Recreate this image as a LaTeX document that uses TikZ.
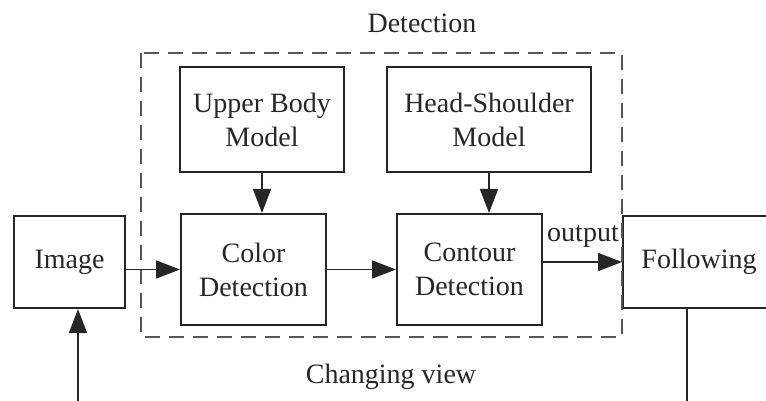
\documentclass[tikz,border=0pt]{standalone}
\usepackage{fontspec}
\setmainfont{Liberation Serif}
\usetikzlibrary{arrows.meta}
\definecolor{ink}{HTML}{262626}
\definecolor{dashgray}{HTML}{555555}
\tikzset{
  blk/.style={draw=ink, line width=2pt, rectangle, inner sep=0pt,
              align=center, text=ink, font=\fontsize{28}{34}\selectfont},
  arr/.style={draw=ink, line width=1.7pt, -{Triangle[length=24pt,width=18pt]}},
  wire/.style={draw=ink, line width=1.7pt},
  lbl/.style={text=ink, inner sep=0pt, anchor=base, font=\fontsize{28}{34}\selectfont},
  frame/.style={draw=dashgray, line width=2.4pt, dash pattern=on 15pt off 9pt}
}
\begin{document}
\begin{tikzpicture}[x=1pt, y=-1pt]
  \useasboundingbox (0,0) rectangle (766,401);
  \clip (0,0) rectangle (766,401);

  % processing blocks
  \node[blk, minimum width=111pt, minimum height=92pt]  (img) at (69.5,262)  {Image};
  \node[blk, minimum width=164pt, minimum height=105pt] (ubm) at (262,119.5) {Upper Body\\Model};
  \node[blk, minimum width=204pt, minimum height=105pt] (hsm) at (489,119.5) {Head-Shoulder\\Model};
  \node[blk, minimum width=145pt, minimum height=111pt] (col) at (253.5,269.5) {Color\\Detection};
  \node[blk, minimum width=145pt, minimum height=111pt] (con) at (469.5,269.5) {Contour\\Detection};
  \node[blk, minimum width=152pt, minimum height=92pt]  (fol) at (699,262)   {Following};

  % detection stage frame
  \draw[frame] (141,53) rectangle (622,337);

  % labels
  \node[lbl] (tdet) at (422,33)  {Detection};
  \node[lbl] (tchg) at (391,383) {Changing view};
  \node[lbl] (tout) at (583,241) {output};

  % connectors
  \coordinate (src) at (78,401);
  \coordinate (snk) at (687,401);
  \draw[arr] (src) -- (src |- img.south);
  \draw[arr] (img.east |- col.west) -- (col.west);
  \draw[arr] (col) -- (con);
  \draw[arr] (con.east |- fol.west) -- (fol.west);
  \draw[arr] (ubm.south) -- (ubm.south |- col.north);
  \draw[arr] (hsm.south) -- (hsm.south |- con.north);
  \draw[wire] (snk |- fol.south) -- (snk);
\end{tikzpicture}
\end{document}
